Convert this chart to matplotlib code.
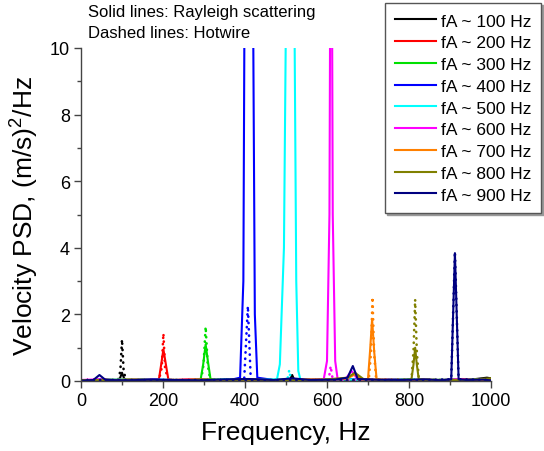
import matplotlib
matplotlib.use("Agg")
import matplotlib.pyplot as plt

plt.rcParams['font.family'] = ['Liberation Sans', 'DejaVu Sans']
plt.rcParams['mathtext.fontset'] = 'custom'
plt.rcParams['mathtext.rm'] = 'Liberation Sans'
plt.rcParams['mathtext.it'] = 'Liberation Sans'

labels = ["fA ~ 100 Hz", "fA ~ 200 Hz", "fA ~ 300 Hz", "fA ~ 400 Hz", "fA ~ 500 Hz",
          "fA ~ 600 Hz", "fA ~ 700 Hz", "fA ~ 800 Hz", "fA ~ 900 Hz"]
colors = ["#000000", "#FF0000", "#00E000", "#0000FF", "#00FFFF",
          "#FF00FF", "#FF8000", "#808000", "#000080"]

# Rayleigh scattering (solid)
r100_f = [0, 30, 60, 90, 95, 100, 105, 110, 150, 200, 250, 300, 350, 400, 450, 500, 510, 515, 520, 550, 600, 650, 700, 750, 800, 850, 900, 950, 990, 1000]
r100_v = [0.0, 0.02, 0.05, 0.03, 0.08, 0.25, 0.08, 0.03, 0.02, 0.03, 0.01, 0.04, 0.02, 0.05, 0.03, 0.02, 0.05, 0.18, 0.04, 0.02, 0.03, 0.05, 0.02, 0.04, 0.03, 0.02, 0.03, 0.04, 0.1, 0.08]
r200_f = [0, 40, 80, 120, 160, 190, 195, 201, 207, 213, 240, 280, 330, 380, 430, 480, 530, 580, 630, 680, 730, 780, 830, 880, 930, 970, 1000]
r200_v = [0.01, 0.03, 0.02, 0.04, 0.03, 0.05, 0.45, 0.95, 0.5, 0.05, 0.02, 0.04, 0.02, 0.03, 0.05, 0.02, 0.03, 0.04, 0.02, 0.05, 0.03, 0.02, 0.04, 0.02, 0.06, 0.03, 0.05]
r300_f = [0, 35, 70, 110, 150, 190, 230, 270, 292, 298, 304, 310, 316, 340, 380, 420, 460, 500, 540, 580, 620, 660, 700, 740, 780, 820, 860, 900, 940, 980, 1000]
r300_v = [0.02, 0.03, 0.01, 0.04, 0.05, 0.02, 0.03, 0.04, 0.06, 0.5, 1.1, 0.55, 0.05, 0.03, 0.02, 0.04, 0.03, 0.05, 0.02, 0.03, 0.06, 0.04, 0.03, 0.02, 0.04, 0.03, 0.02, 0.05, 0.03, 0.04, 0.02]
r400_f = [0, 45, 90, 135, 180, 225, 270, 315, 360, 388, 396, 400, 410, 418, 424, 430, 470, 520, 570, 620, 670, 720, 770, 820, 870, 920, 960, 1000]
r400_v = [0.01, 0.04, 0.02, 0.03, 0.05, 0.02, 0.04, 0.03, 0.02, 0.1, 3.0, 15.0, 30.0, 15.0, 2.0, 0.1, 0.03, 0.04, 0.02, 0.05, 0.06, 0.02, 0.04, 0.03, 0.02, 0.03, 0.05, 0.04]
r500_f = [0, 50, 100, 150, 200, 250, 300, 350, 400, 450, 478, 485, 495, 502, 511, 519, 525, 530, 535, 580, 630, 680, 730, 780, 830, 880, 930, 980, 1000]
r500_v = [0.02, 0.03, 0.05, 0.02, 0.04, 0.03, 0.02, 0.05, 0.03, 0.04, 0.05, 0.5, 4.0, 14.0, 25.0, 14.0, 3.0, 0.3, 0.05, 0.03, 0.06, 0.04, 0.02, 0.05, 0.03, 0.04, 0.02, 0.06, 0.03]
r600_f = [0, 40, 85, 130, 175, 220, 265, 310, 355, 400, 445, 490, 540, 592, 600, 606, 610, 614, 620, 626, 645, 660, 675, 720, 770, 820, 870, 920, 970, 1000]
r600_v = [0.03, 0.05, 0.02, 0.04, 0.03, 0.02, 0.06, 0.03, 0.02, 0.04, 0.03, 0.02, 0.04, 0.05, 0.6, 5.0, 20.0, 5.0, 0.6, 0.05, 0.06, 0.3, 0.05, 0.03, 0.04, 0.02, 0.03, 0.05, 0.02, 0.03]
r700_f = [0, 55, 110, 165, 220, 275, 330, 385, 440, 495, 550, 605, 650, 668, 685, 700, 705, 710, 715, 721, 750, 800, 850, 900, 950, 1000]
r700_v = [0.02, 0.03, 0.04, 0.02, 0.03, 0.05, 0.02, 0.04, 0.03, 0.02, 0.05, 0.03, 0.08, 0.2, 0.04, 0.06, 0.9, 1.86, 0.9, 0.05, 0.03, 0.02, 0.04, 0.03, 0.02, 0.04]
r800_f = [0, 60, 120, 180, 240, 300, 360, 420, 480, 540, 600, 650, 668, 690, 740, 790, 806, 811, 815, 819, 824, 860, 910, 960, 1000]
r800_v = [0.03, 0.02, 0.04, 0.03, 0.02, 0.05, 0.03, 0.04, 0.02, 0.03, 0.05, 0.1, 0.25, 0.05, 0.03, 0.04, 0.05, 0.5, 1.0, 0.5, 0.04, 0.03, 0.02, 0.05, 0.08]
r900_f = [0, 30, 45, 60, 110, 170, 230, 290, 350, 410, 470, 515, 560, 620, 650, 663, 675, 720, 780, 840, 880, 903, 912, 921, 940, 980, 1000]
r900_v = [0.01, 0.03, 0.18, 0.03, 0.02, 0.04, 0.03, 0.02, 0.05, 0.06, 0.03, 0.08, 0.03, 0.04, 0.1, 0.45, 0.06, 0.04, 0.03, 0.05, 0.02, 0.05, 3.84, 0.05, 0.03, 0.04, 0.02]

# Hotwire (dotted)
h100_f = [0, 50, 90, 96, 100, 104, 110, 200, 300, 400, 500, 600, 700, 800, 900, 1000]
h100_v = [0.02, 0.03, 0.02, 0.3, 1.25, 0.3, 0.02, 0.03, 0.02, 0.04, 0.02, 0.03, 0.02, 0.03, 0.02, 0.03]
h200_f = [0, 100, 190, 197, 201, 205, 212, 300, 400, 500, 600, 700, 800, 900, 1000]
h200_v = [0.03, 0.02, 0.03, 0.4, 1.43, 0.4, 0.03, 0.02, 0.03, 0.02, 0.04, 0.02, 0.03, 0.02, 0.03]
h300_f = [0, 100, 200, 293, 299, 304, 309, 315, 400, 500, 600, 700, 800, 900, 1000]
h300_v = [0.02, 0.03, 0.02, 0.04, 0.5, 1.63, 0.5, 0.04, 0.03, 0.02, 0.03, 0.02, 0.04, 0.03, 0.02]
h400_f = [0, 100, 200, 300, 398, 407, 414, 500, 600, 700, 800, 900, 1000]
h400_v = [0.03, 0.02, 0.03, 0.02, 0.05, 2.25, 0.05, 0.03, 0.02, 0.03, 0.02, 0.03, 0.02]
h500_f = [0, 100, 200, 300, 400, 503, 508, 512, 600, 700, 800, 900, 1000]
h500_v = [0.02, 0.03, 0.02, 0.03, 0.02, 0.02, 0.33, 0.02, 0.03, 0.02, 0.03, 0.02, 0.03]
h600_f = [0, 100, 200, 300, 400, 500, 604, 609, 614, 700, 800, 900, 1000]
h600_v = [0.03, 0.02, 0.03, 0.02, 0.03, 0.02, 0.03, 0.45, 0.03, 0.02, 0.03, 0.02, 0.03]
h700_f = [0, 100, 200, 300, 400, 500, 600, 702, 707, 711, 715, 720, 800, 900, 1000]
h700_v = [0.02, 0.03, 0.02, 0.03, 0.02, 0.03, 0.02, 0.04, 0.8, 2.52, 0.8, 0.04, 0.03, 0.02, 0.03]
h800_f = [0, 100, 200, 300, 400, 500, 600, 700, 806, 811, 815, 819, 824, 900, 1000]
h800_v = [0.03, 0.02, 0.03, 0.02, 0.03, 0.02, 0.03, 0.02, 0.04, 0.9, 2.45, 0.9, 0.04, 0.02, 0.03]
h900_f = [0, 100, 200, 300, 400, 500, 600, 700, 800, 903, 912, 921, 1000]
h900_v = [0.02, 0.03, 0.02, 0.03, 0.02, 0.03, 0.02, 0.03, 0.02, 0.05, 3.88, 0.05, 0.03]

rayleigh = [(r100_f, r100_v), (r200_f, r200_v), (r300_f, r300_v), (r400_f, r400_v), (r500_f, r500_v),
            (r600_f, r600_v), (r700_f, r700_v), (r800_f, r800_v), (r900_f, r900_v)]
hotwire = [(h100_f, h100_v), (h200_f, h200_v), (h300_f, h300_v), (h400_f, h400_v), (h500_f, h500_v),
           (h600_f, h600_v), (h700_f, h700_v), (h800_f, h800_v), (h900_f, h900_v)]

x_ticks = [0, 200, 400, 600, 800, 1000]
y_ticks = [0, 2, 4, 6, 8, 10]

fig = plt.figure(figsize=(5.44, 4.52), dpi=100)
ax = fig.add_axes([81/544, 1-382/452, 410/544, 333/452])

handles = []
for (f, v), (hf, hv), c, lab in zip(rayleigh, hotwire, colors, labels):
    ax.plot(hf, hv, color=c, lw=1.9, linestyle=(0, (0.1, 2.3)), dash_capstyle='round', clip_on=True)
    h, = ax.plot(f, v, color=c, lw=1.5, label=lab, clip_on=True)
    handles.append(h)

ax.set_xlim(0, 1000)
ax.set_ylim(0, 10)
ax.set_xticks(x_ticks)
ax.set_yticks(y_ticks)
ax.set_xticks([100, 300, 500, 700, 900], minor=True)
ax.set_yticks([1, 3, 5, 7, 9], minor=True)
ax.spines['top'].set_visible(False)
ax.spines['right'].set_visible(False)
for s in ['left', 'bottom']:
    ax.spines[s].set_color('#444444')
    ax.spines[s].set_linewidth(1.0)
ax.tick_params(which='major', direction='out', length=5, width=1, color='#444444', labelsize=13, pad=3)
ax.tick_params(which='minor', direction='out', length=3, width=1, color='#444444')

ax.set_xlabel("Frequency, Hz", fontsize=19, labelpad=8)
ax.set_ylabel("Velocity PSD, (m/s)$^{2}$/Hz", fontsize=19, labelpad=6)

fig.text(88/544, 1-13/452, "Solid lines: Rayleigh scattering", fontsize=12, va='center', ha='left')
fig.text(88/544, 1-34/452, "Dashed lines: Hotwire", fontsize=12, va='center', ha='left')

leg = fig.legend(handles=handles, loc='upper left', bbox_to_anchor=(385/544, 1-4/452),
                 bbox_transform=fig.transFigure, fontsize=12.5, frameon=True, fancybox=False,
                 edgecolor='#555555', borderpad=0.6, labelspacing=0.38, handlelength=2.35,
                 handletextpad=0.25, borderaxespad=0,
                 shadow={'ox': 1.5, 'oy': -1.5, 'color': '#999999', 'alpha': 1.0})
leg.get_frame().set_linewidth(1.0)

fig.savefig("out.png", dpi=100)
